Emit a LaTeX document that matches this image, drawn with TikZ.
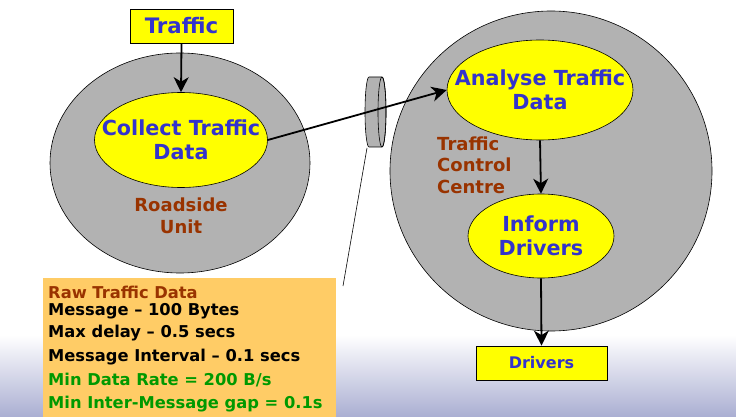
\documentclass[tikz,border=0pt]{standalone}
\usepackage{fontspec}
\setmainfont{DejaVu Sans}
\usetikzlibrary{shapes.geometric,arrows.meta}
\definecolor{txtblue}{RGB}{51,51,204}
\definecolor{disk}{RGB}{178,178,178}
\definecolor{brownred}{RGB}{153,51,0}
\definecolor{okgreen}{RGB}{0,153,0}
\definecolor{notebg}{RGB}{255,204,102}
\definecolor{lavender}{RGB}{170,174,210}
\definecolor{pureyellow}{RGB}{255,255,0}
\tikzset{
  graybody/.style={ellipse,draw=black,fill=disk,line width=0.6pt,inner sep=0pt},
  task/.style={ellipse,draw=black,fill=pureyellow,line width=0.6pt,inner sep=0pt},
  tasktext/.style={align=center,inner sep=0pt,text=txtblue,font=\bfseries\fontsize{20.7}{24}\selectfont},
  term/.style={rectangle,draw=black,fill=pureyellow,line width=0.8pt,inner sep=0pt,
    text=txtblue},
  flow/.style={-{Stealth[length=15pt,width=15pt,inset=4.5pt]},line width=1.8pt},
  lbl/.style={text=brownred,inner sep=0pt,font=\bfseries\fontsize{18}{21.5}\selectfont},
  noteline/.style={anchor=west,inner sep=0pt,font=\bfseries\fontsize{16.3}{18}\selectfont},
}
\begin{document}
\begin{tikzpicture}[x=1pt,y=-1pt]
\useasboundingbox (0,0) rectangle (736,417);
% background
\fill[white] (0,0) rectangle (736,417);
\shade[top color=white,bottom color=lavender] (0,335) rectangle (736,417);
% bodies
\node[graybody,minimum width=260pt,minimum height=220pt] (rsu) at (180,163) {};
\node[graybody,minimum width=322pt,minimum height=320pt] (tcc) at (551,171) {};
% tasks
\node[task,minimum width=173pt,minimum height=95pt] (collect) at (181,140) {};
\node[tasktext] (collecttxt) at (collect.center) {Collect Traffic\\Data};
\node[task,minimum width=186pt,minimum height=100pt] (analyse) at (540,90) {};
\node[tasktext] (analysetxt) at (analyse.center) {Analyse Traffic\\Data};
\node[task,minimum width=146pt,minimum height=84pt] (inform) at (541,236) {};
\node[tasktext] (informtxt) at (inform.center) {Inform\\Drivers};
% terminals
\node[term,minimum width=103pt,minimum height=34pt,font=\bfseries\fontsize{21.3}{24}\selectfont] (traffic) at (181.5,26) {Traffic};
\node[term,minimum width=131pt,minimum height=34pt,font=\bfseries\fontsize{16}{20}\selectfont] (drivers) at (541.5,363) {Drivers};
% labels
\node[lbl,align=center] (rsulbl) at (181,216) {Roadside\\Unit};
\node[lbl,align=left,anchor=west] (tcclbl) at (437,165) {Traffic\\Control\\Centre};
% disk (channel)
\filldraw[fill=disk,draw=black,line width=0.6pt] (369,77) -- (382,77) arc[start angle=-90,end angle=90,x radius=4,y radius=35]
  -- (369,147) arc[start angle=90,end angle=270,x radius=4,y radius=35] -- cycle;
\draw[line width=0.6pt] (382,112) ellipse [x radius=4, y radius=35];
\coordinate (diskbot) at (367,148);
% note box
\node[rectangle,fill=notebg,minimum width=293pt,minimum height=140pt,anchor=north west,inner sep=0pt] (note) at (43,278) {};
\node[noteline,text=brownred] (l1) at (48,292) {Raw Traffic Data};
\node[noteline,text=black] (l2) at (48,311.5) {Message – 100 Bytes};
\node[noteline,text=black] (l3) at (48,333.5) {Max delay – 0.5 secs};
\node[noteline,text=black] (l4) at (48,357) {Message Interval – 0.1 secs};
\node[noteline,text=okgreen] (l5) at (48,380.5) {Min Data Rate = 200 B/s};
\node[noteline,text=okgreen] (l6) at (48,404.5) {Min Inter-Message gap = 0.1s};
\coordinate (noteend) at (343,286);
\draw[line width=0.6pt] (diskbot) -- (noteend);
% flows
\draw[flow] (traffic.south) -- (collect.north);
\draw[flow] (collect.east) -- (analyse.west);
\draw[flow] (analyse.south) -- (inform.north);
\draw[flow] (inform.south) -- (drivers.north);
\end{tikzpicture}
\end{document}
